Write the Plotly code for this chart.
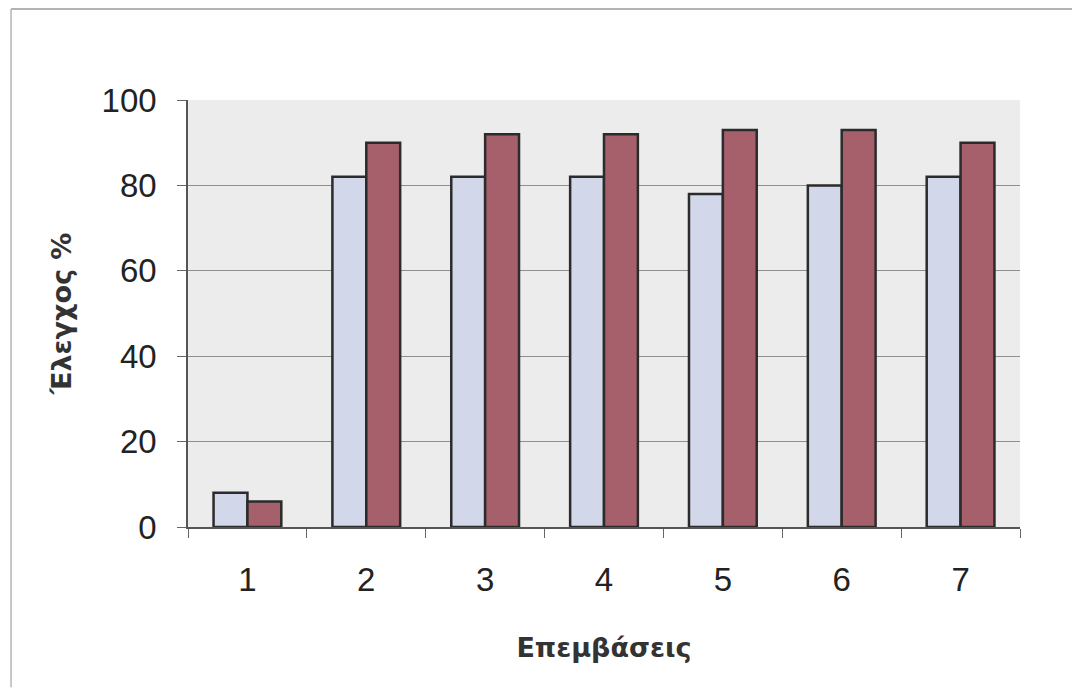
import plotly.graph_objects as go

# Interventions (categories) and control percentages for the two series
categories = ["1", "2", "3", "4", "5", "6", "7"]
series_a = [8, 82, 82, 82, 78, 80, 82]
series_b = [6, 90, 92, 92, 93, 93, 90]
y_ticks = [0, 20, 40, 60, 80, 100]

fig = go.Figure()
fig.add_trace(go.Bar(
    x=categories, y=series_a, name="A",
    marker=dict(color="#d3d7ea", line=dict(color="#2b2b2b", width=2.5)),
))
fig.add_trace(go.Bar(
    x=categories, y=series_b, name="B",
    marker=dict(color="#a6606c", line=dict(color="#2b2b2b", width=2.5)),
))

tick_family = "Liberation Sans, Arial, sans-serif"
title_family = "DejaVu Sans, Verdana, sans-serif"

fig.update_layout(
    width=1072, height=691,
    margin=dict(l=188, r=52, t=100, b=164),
    paper_bgcolor="white",
    plot_bgcolor="#ececec",
    barmode="group",
    bargap=0.43,
    bargroupgap=0.0,
    showlegend=False,
    font=dict(family=tick_family, color="#222222"),
    xaxis=dict(
        type="category",
        tickson="boundaries",
        ticks="outside", ticklen=9, tickcolor="#666666", tickwidth=1,
        ticklabelstandoff=23,
        showline=True, linecolor="#555555", linewidth=1.5,
        showgrid=False,
        tickfont=dict(size=33, color="#222222"),
        title=dict(text="<b>Επεμβάσεις</b>",
                   font=dict(family=title_family, size=27, color="#333333"),
                   standoff=41),
    ),
    yaxis=dict(
        range=[0, 100],
        tickvals=y_ticks,
        ticks="outside", ticklen=9, tickcolor="#666666", tickwidth=1,
        ticklabelstandoff=14,
        showline=True, linecolor="#555555", linewidth=1.5,
        showgrid=True, gridcolor="#8e8e8e", gridwidth=1,
        zeroline=False,
        tickfont=dict(size=33, color="#222222"),
        title=dict(text="<b>Έλεγχος %</b>",
                   font=dict(family=title_family, size=27, color="#333333"),
                   standoff=22),
    ),
)

# Outer frame lines (top and left) around the chart
fig.add_shape(type="line", xref="paper", yref="paper",
              x0=-0.2127, x1=1.0625, y0=1.213, y1=1.213,
              line=dict(color="#9a9a9a", width=1.5))
fig.add_shape(type="line", xref="paper", yref="paper",
              x0=-0.2127, x1=-0.2127, y0=-0.375, y1=1.213,
              line=dict(color="#b5b5b5", width=1.5))

fig.write_html("out.html")
